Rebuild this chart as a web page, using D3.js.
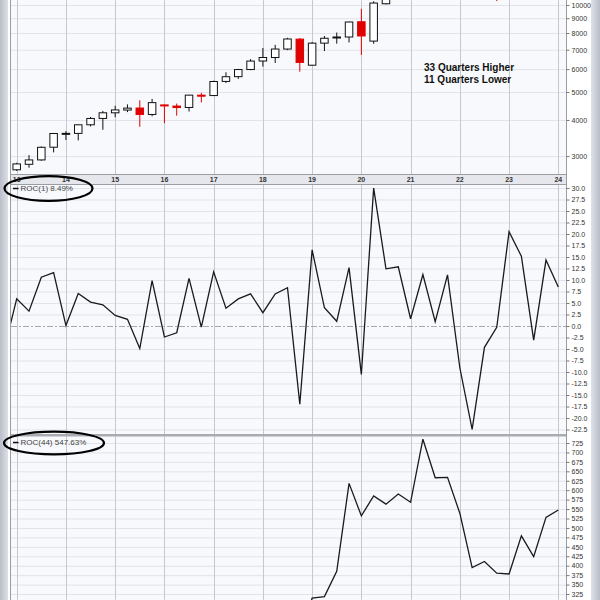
<!DOCTYPE html>
<html><head><meta charset="utf-8">
<script src="https://cdn.jsdelivr.net/npm/d3@7"></script>
<style>body{margin:0;background:#fff}svg{display:block}</style>
</head><body>
<script>
// Quarterly candles, Q1 2013 .. Q1 2024 (index 0..44)
const quarters = ["2013Q1","2013Q2","2013Q3","2013Q4","2014Q1","2014Q2","2014Q3","2014Q4","2015Q1","2015Q2","2015Q3","2015Q4","2016Q1","2016Q2","2016Q3","2016Q4","2017Q1","2017Q2","2017Q3","2017Q4","2018Q1","2018Q2","2018Q3","2018Q4","2019Q1","2019Q2","2019Q3","2019Q4","2020Q1","2020Q2","2020Q3","2020Q4","2021Q1","2021Q2","2021Q3","2021Q4","2022Q1","2022Q2","2022Q3","2022Q4","2023Q1","2023Q2","2023Q3","2023Q4","2024Q1"];
const opens  = [2690,2810,2910,3220,3590,3595,3850,4050,4236,4330,4400,4180,4510,4470,4420,4875,4860,5440,5650,5980,6400,6580,7040,7620,6190,7380,7690,7750,8750,7500,10100,11420,12900,13090,14560,14690,16320,14830,11500,10970,10940,13180,15180,14720,16830];
const highs  = [2845,3025,3240,3600,3660,3855,4100,4300,4480,4530,4680,4730,4530,4560,4890,4965,5470,5850,6010,6500,7100,7280,7700,7690,7450,7810,8030,8750,9700,10300,12440,12960,13880,14600,15700,16770,16660,15270,13720,12170,13200,15280,15930,16970,18460];
const lows   = [2665,2735,2890,3090,3410,3400,3800,3700,4090,4260,3790,4120,3900,4140,4280,4600,4850,5370,5550,5950,6120,6300,6980,5880,6170,6930,7350,7420,6720,7340,10050,10900,12210,12650,14420,14460,13020,11070,10960,10320,10700,12720,14560,14060,16150];
const closes = [2818.69,2909.60,3218.20,3592.00,3595.74,3849.68,4049.45,4236.28,4333.69,4396.76,4181.06,4593.27,4483.66,4417.70,4875.70,4863.62,5436.23,5646.92,5979.30,6396.42,6581.13,7040.80,7627.65,6329.96,7378.77,7671.07,7749.45,8733.07,7813.50,10156.85,11418.06,12888.28,13091.44,14554.80,14689.62,16320.08,14838.49,11503.72,10971.22,10939.76,13181.35,15179.21,14715.24,16825.93,18254.69];
const prevClose0 = 2660.93; // Q4 2012 close

// ROC(1), starting Q4 2012 (index -1)
const roc1Start = -1;
const roc1 = [-4.94,5.93,3.23,10.61,11.62,0.10,7.06,5.19,4.61,2.30,1.46,-4.91,9.86,-2.39,-1.47,10.37,-0.25,11.77,3.88,5.89,6.98,2.89,6.98,8.33,-17.01,16.57,3.96,1.02,12.69,-10.53,29.99,12.42,12.88,1.58,11.18,0.93,11.10,-9.08,-22.47,-4.63,-0.29,20.49,15.16,-3.06,14.34,8.49];

// ROC(44), starting Q4 2018 (index 23)
const roc44Start = 23;
const roc44 = [204,314,318,385,618,532,585,563,590,568,735,633,634,539,395,411,380,378,479,424,528,547.63];

const yearLabels = ["13","14","15","16","17","18","19","20","21","22","23","24"];
const priceTicks = [3000,4000,5000,6000,7000,8000,9000,10000];
const roc1Ticks = [30,27.5,25,22.5,20,17.5,15,12.5,10,7.5,5,2.5,0,-2.5,-5,-7.5,-10,-12.5,-15,-17.5,-20,-22.5];
const roc44Ticks = [725,700,675,650,625,600,575,550,525,500,475,450,425,400,375,350,325];
const notes = ["33 Quarters Higher","11 Quarters Lower"];
const legend1 = "ROC(1) 8.49%";
const legend2 = "ROC(44) 547.63%";

const W=600,H=600, L=11, R=566;
const svg = d3.select("body").append("svg").attr("width",W).attr("height",H);
const defs = svg.append("defs");

// frame
svg.append("rect").attr("width",W).attr("height",H).attr("fill","#fff");
const lg = defs.append("linearGradient").attr("id","lg");
lg.append("stop").attr("offset","0").attr("stop-color","#b9bdc8");
lg.append("stop").attr("offset","1").attr("stop-color","#dde0e6");
svg.append("rect").attr("x",0).attr("y",0).attr("width",8).attr("height",H).attr("fill","url(#lg)");
const rg = defs.append("linearGradient").attr("id","rg");
rg.append("stop").attr("offset","0").attr("stop-color","#dfe2e8");
rg.append("stop").attr("offset","1").attr("stop-color","#b8bcc8");
svg.append("rect").attr("x",591).attr("y",0).attr("width",9).attr("height",H).attr("fill","url(#rg)");

const panels = {top:[-10,174], mid:[184,435], bot:[436,620]};
Object.entries(panels).forEach(([k,[a,b]])=>{
  defs.append("clipPath").attr("id","clip-"+k).append("rect").attr("x",L).attr("y",a).attr("width",R-L).attr("height",b-a);
  svg.append("rect").attr("x",L).attr("y",a).attr("width",R-L).attr("height",b-a).attr("fill","#f8f9fc");
});

const x = d3.scaleLinear().domain([0,44]).range([16.7,558.3]);
const yTop = d3.scaleLog().domain([3000,10000]).range([156.1,5]);
const yMid = d3.scaleLinear().domain([0,30]).range([326,188]);
const yBot = d3.scaleLinear().domain([325,725]).range([594,443]);

// horizontal gridlines
function hgrid(ticks, sc, key){
  svg.append("g").attr("clip-path",`url(#clip-${key})`).selectAll("line").data(ticks).join("line")
    .attr("x1",L).attr("x2",R).attr("y1",d=>sc(d)+0.5).attr("y2",d=>sc(d)+0.5)
    .attr("stroke","#e1e3ea").attr("stroke-width",1);
}
hgrid(priceTicks,yTop,"top");
hgrid(roc1Ticks.filter(d=>d!==0),yMid,"mid");
hgrid(roc44Ticks,yBot,"bot");

// vertical year gridlines
const yearIdx = yearLabels.map((d,i)=>i*4);
Object.entries(panels).forEach(([k,[a,b]])=>{
  svg.append("g").attr("clip-path",`url(#clip-${k})`).selectAll("line").data(yearIdx).join("line")
    .attr("x1",d=>Math.round(x(d))+0.5).attr("x2",d=>Math.round(x(d))+0.5).attr("y1",a).attr("y2",b)
    .attr("stroke","#c6c8cf").attr("stroke-width",1);
});

// zero line mid
svg.append("line").attr("x1",L).attr("x2",R).attr("y1",yMid(0)+0.5).attr("y2",yMid(0)+0.5)
  .attr("stroke","#a8a8ae").attr("stroke-dasharray","6,2,2,2");

// candles
const cg = svg.append("g").attr("clip-path","url(#clip-top)");
quarters.forEach((q,i)=>{
  const o=opens[i],h=highs[i],l=lows[i],c=closes[i];
  const pc = i===0?prevClose0:closes[i-1];
  const col = c<pc ? "#e00000" : "#111";
  const filled = c<o;
  const cx = x(i);
  cg.append("line").attr("x1",cx).attr("x2",cx).attr("y1",yTop(h)).attr("y2",yTop(l)).attr("stroke",col).attr("stroke-width",1);
  const top = yTop(Math.max(o,c)), bot = yTop(Math.min(o,c));
  const hgt = Math.max(1, bot-top);
  cg.append("rect").attr("x",cx-3.75).attr("y",top).attr("width",7.5).attr("height",hgt)
    .attr("fill",filled?col:"#fff").attr("stroke",col).attr("stroke-width",1);
});

// ROC lines
const line1 = d3.line().x((d,i)=>x(i+roc1Start)).y(d=>yMid(d));
svg.append("path").attr("clip-path","url(#clip-mid)").datum(roc1).attr("d",line1)
  .attr("fill","none").attr("stroke","#1a1a1a").attr("stroke-width",1.3);
const line2 = d3.line().x((d,i)=>x(i+roc44Start)).y(d=>yBot(d));
svg.append("path").attr("clip-path","url(#clip-bot)").datum(roc44).attr("d",line2)
  .attr("fill","none").attr("stroke","#1a1a1a").attr("stroke-width",1.3);

// panel borders
svg.append("line").attr("x1",L-0.5).attr("x2",L-0.5).attr("y1",0).attr("y2",H).attr("stroke","#9a9ca4");
svg.append("line").attr("x1",R+0.5).attr("x2",R+0.5).attr("y1",0).attr("y2",H).attr("stroke","#9a9ca4");
// x band
svg.append("rect").attr("x",L).attr("y",174).attr("width",R-L).attr("height",10).attr("fill","#e6e7ec");
svg.append("line").attr("x1",L).attr("x2",R).attr("y1",174.5).attr("y2",174.5).attr("stroke","#9a9ca4");
svg.append("line").attr("x1",L).attr("x2",R).attr("y1",184.5).attr("y2",184.5).attr("stroke","#9a9ca4");
svg.append("g").selectAll("text").data(yearLabels).join("text")
  .attr("x",(d,i)=>x(i*4)).attr("y",181.5).attr("text-anchor","middle")
  .attr("font-family","Liberation Sans, Arial, sans-serif").attr("font-size",7).attr("font-weight","bold")
  .attr("fill","#333").text(d=>d);
// separator mid/bot
svg.append("rect").attr("x",L).attr("y",434).attr("width",R-L).attr("height",2.5).attr("fill","#a9abb3");

// right axes
function axis(sc, ticks, fmt){
  const g = svg.append("g").attr("transform",`translate(${R+0.5},0)`)
    .call(d3.axisRight(sc).tickValues(ticks).tickFormat(fmt).tickSize(3).tickPadding(2));
  g.select(".domain").remove();
  g.selectAll("line").attr("stroke","#777");
  g.selectAll("text").attr("font-family","Liberation Sans, Arial, sans-serif").attr("font-size",7).attr("fill","#333");
}
axis(yTop, priceTicks, d=>String(d));
axis(yMid, roc1Ticks, d=>d.toFixed(1));
axis(yBot, roc44Ticks, d=>String(d));

// legends
function legend(txt, y, cx, rx, ry, cy){
  svg.append("line").attr("x1",13).attr("x2",18.5).attr("y1",y-2.5).attr("y2",y-2.5).attr("stroke","#111").attr("stroke-width",1.5);
  svg.append("text").attr("x",20.5).attr("y",y).attr("font-family","Liberation Sans, Arial, sans-serif")
    .attr("font-size",8).attr("fill","#444").text(txt);
  svg.append("ellipse").attr("cx",cx).attr("cy",cy).attr("rx",rx).attr("ry",ry)
    .attr("fill","none").attr("stroke","#000").attr("stroke-width",2.2);
}
legend(legend1, 191, 48.5, 44, 12.3, 188.5);
legend(legend2, 445, 54, 50, 11.3, 443);

// annotation
svg.append("g").selectAll("text").data(notes).join("text")
  .attr("x",424).attr("y",(d,i)=>71+i*12.3)
  .attr("font-family","Liberation Sans, Arial, sans-serif").attr("font-size",10).attr("font-weight","bold")
  .attr("fill","#111").text(d=>d);
</script>
</body></html>
